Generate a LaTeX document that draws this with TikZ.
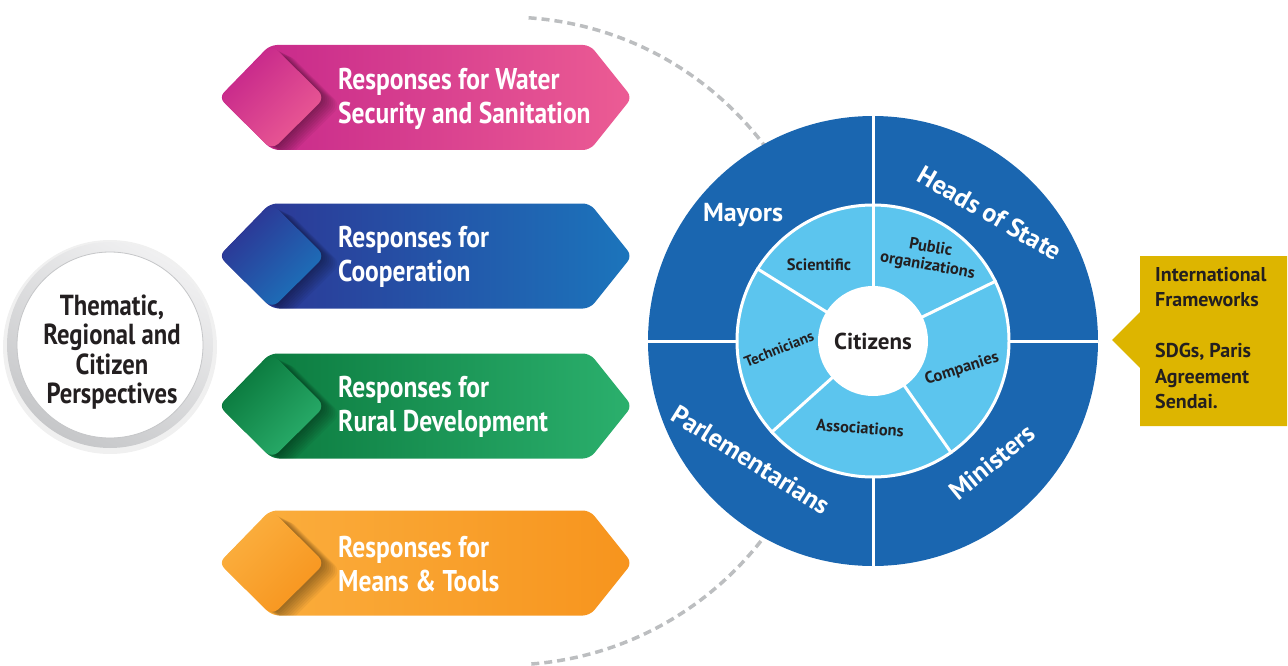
\documentclass[tikz,border=0pt]{standalone}
\usepackage{fontspec}
\setmainfont{PT Sans}
\newfontfamily\condfont[FakeStretch=0.85]{PT Sans}
\definecolor{cblue}{HTML}{1A66B0}
\definecolor{clight}{HTML}{5CC5EE}
\definecolor{cgold}{HTML}{DDB500}
\definecolor{ctext}{HTML}{231F20}
\definecolor{cdash}{HTML}{BCBEC0}
\definecolor{pinkA}{HTML}{C4248A}
\definecolor{pinkB}{HTML}{EC5C94}
\definecolor{blueA}{HTML}{2E3192}
\definecolor{blueB}{HTML}{1B75BC}
\definecolor{greenA}{HTML}{08753A}
\definecolor{greenB}{HTML}{2BB06D}
\definecolor{orangeA}{HTML}{FBB040}
\definecolor{orangeB}{HTML}{F7941D}
\definecolor{ringA}{HTML}{F0F0F1}
\definecolor{ringB}{HTML}{C6C7C9}
\tikzset{
  bannertext/.style={anchor=west, align=left, text=white, inner sep=0pt,
    font=\condfont\bfseries\fontsize{30}{34}\selectfont},
  persptext/.style={align=center, text=ctext, inner sep=0pt,
    font=\condfont\bfseries\fontsize{29}{29.5}\selectfont},
  outlabel/.style={text=white, inner sep=0pt, font=\bfseries\fontsize{26}{30}\selectfont},
  inlabel/.style={text=ctext, inner sep=0pt, font=\bfseries\fontsize{16.5}{18}\selectfont},
  goldtext/.style={anchor=north west, align=left, text=ctext, inner sep=0pt,
    font=\bfseries\fontsize{20}{25.5}\selectfont},
  divider/.style={white, line width=3pt}
}
\newcommand\respbanner[5]{%
\begin{scope}[shift={(0,#2)}]
 \shade[left color=#3,right color=#4,rounded corners=7pt] (219,0) -- (270,-52.5) -- (590,-52.5) -- (632,0) -- (590,52.5) -- (272,52.5) -- cycle;
 \begin{scope}
  \clip[rounded corners=7pt] (219,0) -- (270,-52.5) -- (590,-52.5) -- (632,0) -- (590,52.5) -- (272,52.5) -- cycle;
  \foreach \s in {2,4,...,16}
   \fill[black,opacity=0.05,rounded corners=9pt] (219+\s,0.5*\s) -- (272+\s,-52.5+0.5*\s) -- (325+\s,0.5*\s) -- (272+\s,52.5+0.5*\s) -- cycle;
 \end{scope}
 \shade[top color=#3,bottom color=#4,shading angle=45,rounded corners=9pt] (219,0) -- (272,-52.5) -- (325,0) -- (272,52.5) -- cycle;
 \node[bannertext] (#1) at (338,1) {#5};
\end{scope}}
\begin{document}
\begin{tikzpicture}[x=1pt,y=-1pt]
\useasboundingbox (0,0) rectangle (1288,666);
% dashed arc
\draw[cdash, line width=3.5pt, dash pattern=on 8pt off 5pt] (506,341) ++(-86:324) arc[start angle=-86, end angle=86, radius=324];
% banners
\respbanner{water}{97.5}{pinkA}{pinkB}{Responses for Water\\Security and Sanitation}
\respbanner{coop}{256}{blueA}{blueB}{Responses for\\Cooperation}
\respbanner{rural}{406}{greenA}{greenB}{Responses for\\Rural Development}
\respbanner{means}{563}{orangeA}{orangeB}{Responses for\\Means \& Tools}
% left circle
\fill[black,opacity=0.06] (110,347) circle (107);
\fill[white] (110,345) circle (93);
\shade[even odd rule, top color=ringA, bottom color=ringB, shading angle=-30] (110,345) circle (103) (110,345) circle (93);
\draw[ringB, line width=0.8pt] (110,345) circle (93);
\node[persptext] (persp) at (112,352) {Thematic,\\Regional and\\Citizen\\Perspectives};
% central circle
\node[circle, fill=cblue, minimum size=450pt, inner sep=0pt, outer sep=0pt] (outer) at (873,341) {};
\draw[divider] (outer.north) -- (outer.south);
\draw[divider] (outer.west) -- (outer.east);
\node[circle, fill=clight, draw=white, line width=3pt, minimum size=272pt, inner sep=0pt] (ring) at (outer.center) {};
\foreach \a in {90,26,-55,-138,148}
  \draw[divider] (ring.center) -- (ring.\a);
\node[circle, fill=white, minimum size=110pt, inner sep=0pt, text=ctext, font=\bfseries\fontsize{23}{26}\selectfont] (hub) at (outer.center) {Citizens};
% outer labels
\node[outlabel] (mayors) at (743,215) {Mayors};
\node[outlabel, rotate=-30] (heads) at (990,213) {Heads of State};
\node[outlabel, rotate=-32] (parl) at (751,460) {Parlementarians};
\node[outlabel, rotate=39] (mins) at (992,462) {Ministers};
% inner labels
\node[inlabel] (sci) at (819,265) {Scientific};
\node[inlabel, rotate=-10, align=center] (pub) at (929,257) {Public\\organizations};
\node[inlabel, rotate=18] (comp) at (962,369) {Companies};
\node[inlabel, rotate=-4] (assoc) at (860,428) {Associations};
\node[inlabel, rotate=22, font=\bfseries\fontsize{15}{17}\selectfont] (tech) at (779,349) {Technicians};
% gold callout
\fill[cgold] (1140,256) -- (1287,256) -- (1287,426) -- (1140,426) -- (1140,368) -- (1112,340) -- (1140,312) -- cycle;
\node[goldtext] (fw) at (1155,267) {International\\Frameworks\\\mbox{}\\SDGs, Paris\\Agreement\\Sendai.};
\end{tikzpicture}
\end{document}
